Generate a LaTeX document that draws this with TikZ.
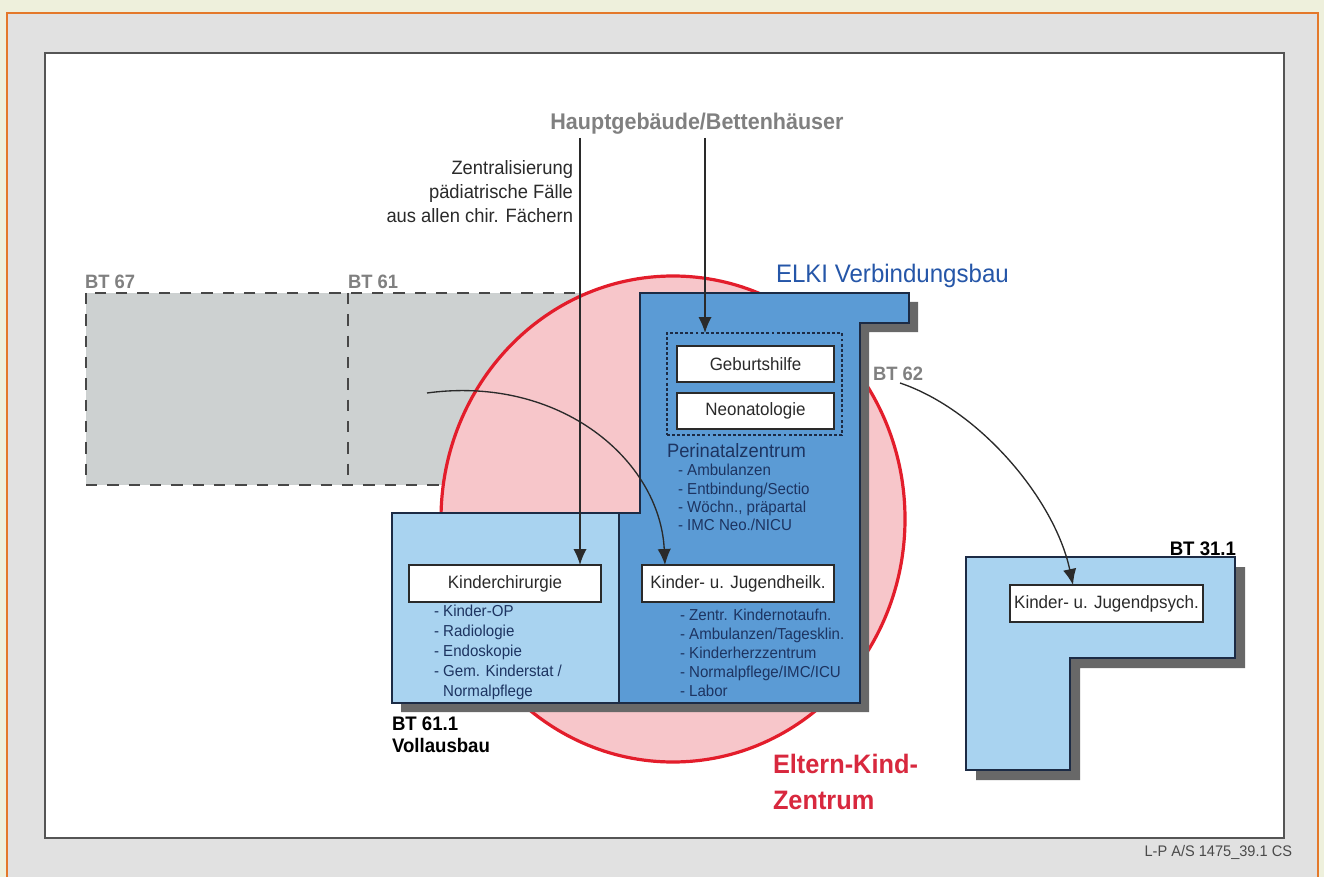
\documentclass[tikz,border=0pt]{standalone}
\usepackage{fontspec}
\setmainfont{Liberation Sans}[FakeStretch=0.95]
\usetikzlibrary{arrows.meta}
\definecolor{outerbg}{HTML}{EEF0DC}
\definecolor{orangeline}{HTML}{E4782A}
\definecolor{ingray}{HTML}{E1E1E1}
\definecolor{panelborder}{HTML}{555555}
\definecolor{bldgray}{HTML}{CDD1D1}
\definecolor{dashgray}{HTML}{474747}
\definecolor{pinkfill}{HTML}{F7C6CA}
\definecolor{redline}{HTML}{E31D2B}
\definecolor{midblue}{HTML}{5B9BD5}
\definecolor{lightblue}{HTML}{A9D3F0}
\definecolor{navyline}{HTML}{1C2B45}
\definecolor{navytext}{HTML}{1D3461}
\definecolor{shadowgray}{HTML}{686868}
\definecolor{labelgray}{HTML}{808080}
\definecolor{elkiblue}{HTML}{2556A8}
\definecolor{ekzred}{HTML}{D8283E}
\definecolor{darktext}{HTML}{2A2A2A}
\newcommand{\myfs}[2]{\fontsize{#1}{#2}\selectfont}
\tikzset{
  every node/.style={inner sep=0pt, outer sep=0pt},
  graylbl/.style={font=\myfs{14.5}{17}\bfseries, text=labelgray},
  blacklbl/.style={font=\myfs{14.7}{16.5}\bfseries, text=black},
  wbox/.style={draw=darktext, fill=white, line width=1pt, font=\myfs{13.4}{16}, text=darktext,
    minimum width=144pt, minimum height=27.75pt},
  listtxt/.style={font=\myfs{11.9}{14.25}, text=navytext, align=left},
  bline/.style={draw=navyline, line width=1.4pt, line join=miter},
  dashline/.style={draw=dashgray, line width=1.6pt, dash pattern=on 8.5pt off 7.5pt},
  varrow/.style={draw=darktext, line width=1.3pt, -{Latex[length=12pt,width=10pt]}},
  carrow/.style={draw=darktext, line width=1pt, -{Latex[length=12pt,width=10pt]}},
}
\begin{document}
\begin{tikzpicture}[x=0.75pt,y=-0.75pt]
\useasboundingbox (0,0) rectangle (1324,877);
\clip (0,0) rectangle (1324,877);
% background
\fill[outerbg] (0,0) rectangle (1324,877);
\draw[draw=orangeline, line width=1.8pt, fill=ingray] (7,13) rectangle (1318,895);
\draw[draw=panelborder, line width=2pt, fill=white] (45,53) rectangle (1284,838);
% grey buildings BT 67 / BT 61
\fill[bldgray] (86,293) rectangle (640,485);
\draw[dashline] (86,293) rectangle (640,485);
\draw[dashline] (348,293) -- (348,485);
% Eltern-Kind-Zentrum ellipse
\draw[draw=redline, line width=2.4pt, fill=pinkfill] (673,519) ellipse [x radius=232, y radius=243];
% BT 61.1 + ELKI shadow
\fill[shadowgray] (401,522) -- (649,522) -- (649,302) -- (918,302) -- (918,332) -- (869,332) -- (869,712) -- (401,712) -- cycle;
\fill[midblue] (619,513) -- (640,513) -- (640,293) -- (909,293) -- (909,323) -- (860,323) -- (860,703) -- (619,703) -- cycle;
\fill[lightblue] (392,513) rectangle (619,703);
\draw[bline] (392,513) -- (640,513) -- (640,293) -- (909,293) -- (909,323) -- (860,323) -- (860,703) -- (392,703) -- cycle;
\draw[bline] (619,513) -- (619,703);
% BT 31.1
\fill[shadowgray] (976,567) -- (1245,567) -- (1245,668) -- (1080,668) -- (1080,780) -- (976,780) -- cycle;
\draw[draw=navyline, line width=1pt, fill=lightblue] (966,557) -- (1235,557) -- (1235,658) -- (1070,658) -- (1070,770) -- (966,770) -- cycle;
% Perinatal dashed group
\node[draw=navyline, line width=0.8pt, dash pattern=on 2.2pt off 1.6pt, minimum width=131.25pt, minimum height=76.5pt] (peri) at (754.5,384) {};
\node[wbox, minimum width=117.75pt, minimum height=27pt] (geb) at (755.5,364) {Geburtshilfe};
\node[wbox, minimum width=117.75pt, minimum height=27pt] (neo) at (755.5,411) {Neonatologie};
\node[anchor=base west, font=\myfs{14.5}{17}, text=navytext] (perit) at (667,457) {Perinatalzentrum};
\node[listtxt, anchor=west, font=\myfs{11.9}{13.75}] (perilist) at (678,497.5) {- Ambulanzen\\- Entbindung/Sectio\\- Wöchn., präpartal\\- IMC Neo./NICU};
% boxes in BT 61.1
\node[wbox] (kc) at (505,583.5) {Kinderchirurgie};
\node[listtxt, anchor=west, font=\myfs{11.9}{15}] (kclist) at (434,652) {- Kinder-OP\\- Radiologie\\- Endoskopie\\- Gem. Kinderstat /\\\phantom{- }Normalpflege};
\node[wbox] (kj) at (738,583.5) {Kinder- u. Jugendheilk.};
\node[listtxt, anchor=west] (kjlist) at (680,652.4) {- Zentr. Kindernotaufn.\\- Ambulanzen/Tagesklin.\\- Kinderherzzentrum\\- Normalpflege/IMC/ICU\\- Labor};
\node[wbox, minimum width=144.75pt] (kp) at (1106.5,603.5) {Kinder- u. Jugendpsych.};
% labels
\node[anchor=base, font=\myfs{17}{20}\bfseries, text=labelgray] (hg) at (697,130) {Hauptgebäude/Bettenhäuser};
\node[anchor=east, align=right, font=\myfs{14.5}{18}, text=darktext] (zen) at (573,192) {Zentralisierung\\pädiatrische Fälle\\aus allen chir. Fächern};
\node[anchor=base west, font=\myfs{19}{22}, text=elkiblue] (elki) at (776,283) {ELKI Verbindungsbau};
\node[graylbl, anchor=base west] (bt67) at (85,288) {BT 67};
\node[graylbl, anchor=base west] (bt61) at (348,288) {BT 61};
\node[graylbl, anchor=base west] (bt62) at (873,380) {BT 62};
\node[blacklbl, anchor=base east] (bt311) at (1236,555) {BT 31.1};
\node[blacklbl, anchor=west, align=left] (bt611) at (392,735) {BT 61.1\\Vollausbau};
\node[anchor=west, align=left, font=\myfs{20}{27}\bfseries, text=ekzred] (ekz) at (773,782) {Eltern-Kind-\\Zentrum};
\node[anchor=base east, font=\myfs{11.5}{13}, text=darktext!85] (foot) at (1292,856) {L-P A/S 1475\_39.1 CS};
% connectors
\coordinate (a1) at (580,138);
\coordinate (a2) at (705,138);
\draw[varrow] (a1) -- (a1 |- kc.north);
\draw[varrow] (a2) -- (a2 |- peri.north);
\coordinate (c1s) at (427,393);
\draw[carrow] (c1s) .. controls (560,375) and (660,460) .. ([xshift=17.25pt]kj.north west);
\coordinate (c2s) at (900,383);
\draw[carrow] (c2s) .. controls (980,410) and (1055,500) .. ([xshift=47.25pt]kp.north west);
\end{tikzpicture}
\end{document}
